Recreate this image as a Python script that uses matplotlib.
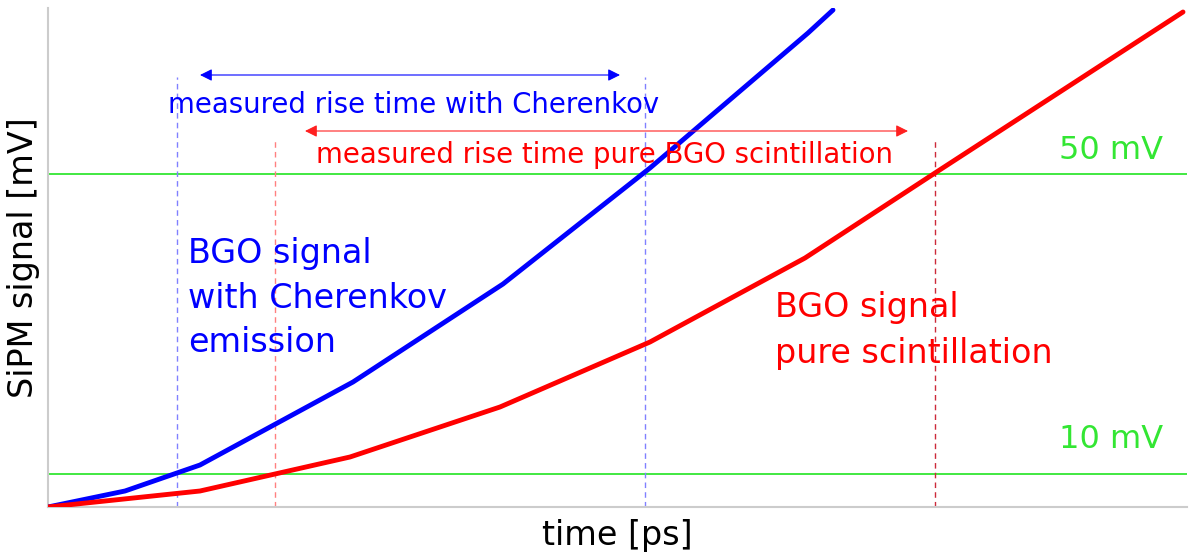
import matplotlib.pyplot as plt

# schematic units: x = time (arb.), y = signal (arb.)
blue_t = [0, 77, 152, 305, 455, 602, 760, 785]
blue_v = [0, 16, 42, 125, 223, 339, 474, 497]
red_t = [0, 152, 302, 452, 602, 757, 887, 1135]
red_v = [0, 16, 50, 100, 165, 249, 334, 495]

thr_low = 33    # 10 mV
thr_high = 333  # 50 mV
thr_labels = ["10 mV", "50 mV"]

blue_cross = [129, 597]
red_cross = [227, 887]

fig = plt.figure(figsize=(11.91, 5.6), dpi=100)
ax = fig.add_axes([48/1191, 53/560, 1139/1191, 499/560])
ax.set_xlim(0, 1139)
ax.set_ylim(0, 499)

for s in ["top", "right"]:
    ax.spines[s].set_visible(False)
for s in ["left", "bottom"]:
    ax.spines[s].set_color("#cccccc")
    ax.spines[s].set_linewidth(1.5)
ax.set_xticks([])
ax.set_yticks([])

# thresholds
green = "#33e633"
ax.axhline(thr_low, color=green, lw=1.3, zorder=1)
ax.axhline(thr_high, color=green, lw=1.3, zorder=1)
ax.text(1115, 67, thr_labels[0], color=green, fontsize=23, ha="right", va="center")
ax.text(1115, 357, thr_labels[1], color=green, fontsize=23, ha="right", va="center")

# dashed markers
for xc in blue_cross:
    ax.plot([xc, xc], [0, 430], color="#8080ff", lw=1, ls=(0, (4, 3)), zorder=1)
ax.plot([red_cross[0], red_cross[0]], [0, 367], color="#ff8080", lw=1, ls=(0, (4, 3)), zorder=1)
ax.plot([red_cross[1], red_cross[1]], [0, 367], color="#cc2a3a", lw=1, ls=(0, (4, 3)), zorder=1)

# signals
ax.plot(blue_t, blue_v, color="#0000ff", lw=3.5, solid_capstyle="round", zorder=3)
ax.plot(red_t, red_v, color="#ff0000", lw=3.5, solid_capstyle="round", zorder=3)

# rise-time arrows
ax.annotate("", xy=(152, 432), xytext=(572, 432),
            arrowprops=dict(arrowstyle="<|-|>", color="#0000ff", lw=0.8,
                            mutation_scale=18, shrinkA=0, shrinkB=0))
ax.annotate("", xy=(257, 376), xytext=(860, 376),
            arrowprops=dict(arrowstyle="<|-|>", color="#ff2020", lw=0.8,
                            mutation_scale=18, shrinkA=0, shrinkB=0))
ax.text(366, 402, "measured rise time with Cherenkov", color="#0000ff",
        fontsize=19.8, ha="center", va="center")
ax.text(557, 352, "measured rise time pure BGO scintillation", color="#ff0000",
        fontsize=19.8, ha="center", va="center")

# curve labels
ax.text(140, 209, "BGO signal\nwith Cherenkov\nemission", color="#0000ff",
        fontsize=24, ha="left", va="center", linespacing=1.45)
ax.text(727, 177, "BGO signal\npure scintillation", color="#ff0000",
        fontsize=24, ha="left", va="center", linespacing=1.5)

ax.set_xlabel("time [ps]", fontsize=24, labelpad=9)
ax.set_ylabel("SiPM signal [mV]", fontsize=24, labelpad=6)

fig.savefig("out.png", dpi=100)
